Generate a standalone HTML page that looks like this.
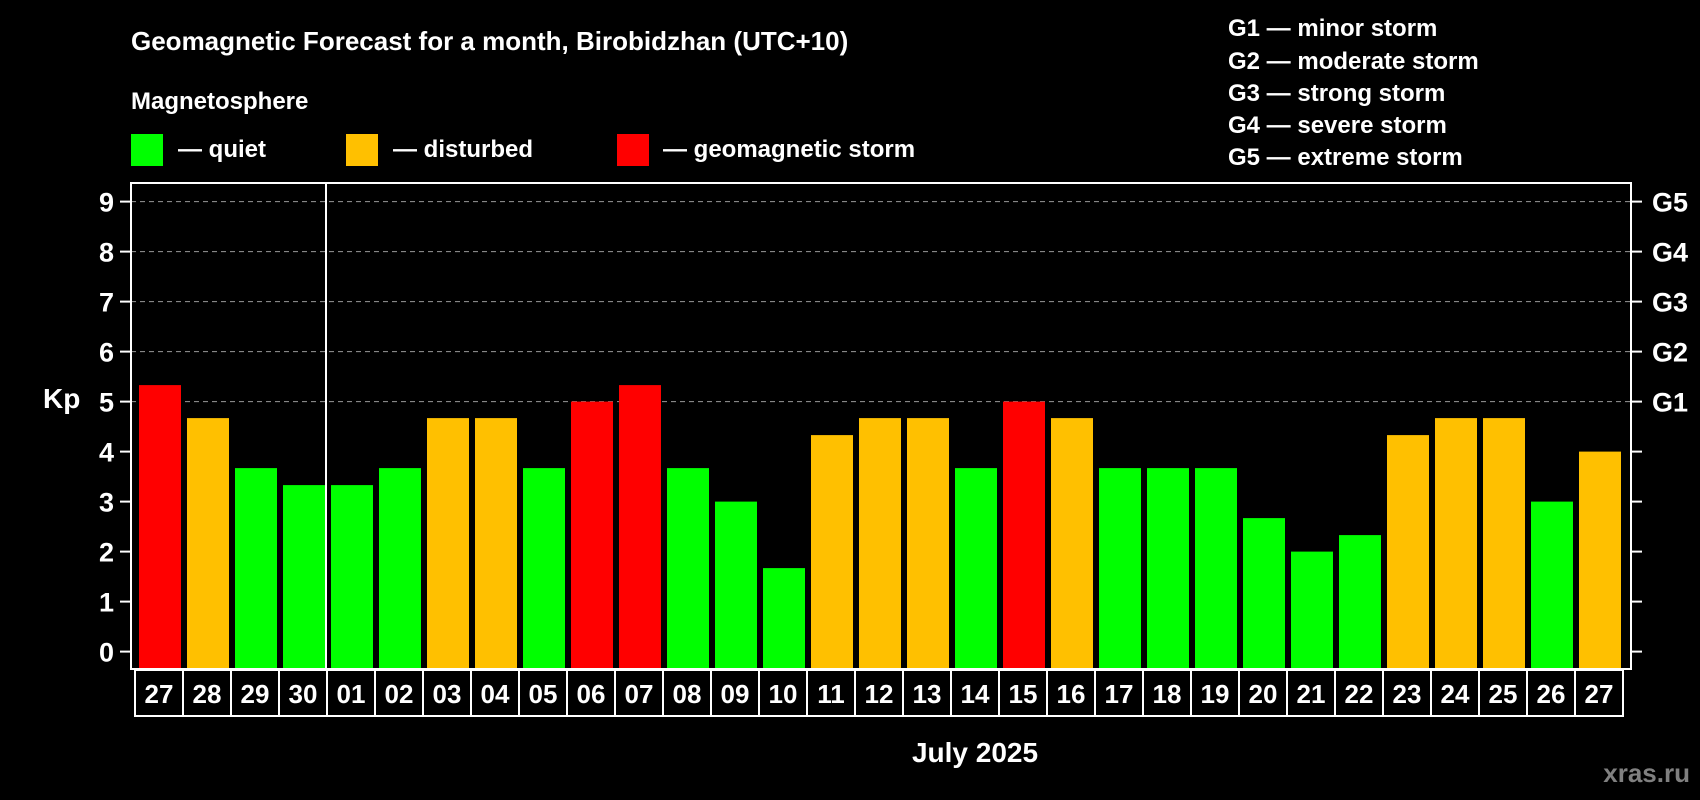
<!DOCTYPE html>
<html><head><meta charset="utf-8"><style>
html,body{margin:0;padding:0;background:#000;}
svg{display:block;font-family:"Liberation Sans",Arial,sans-serif;font-weight:bold;}
</style></head><body>
<svg id="c" width="1700" height="800" viewBox="0 0 1700 800">
<text x="131" y="50" fill="#fff" font-size="26">Geomagnetic Forecast for a month, Birobidzhan (UTC+10)</text>
<text x="131" y="109" fill="#fff" font-size="24">Magnetosphere</text>
<g><rect x="131" y="134" width="32" height="32" fill="#00ff00"/><text x="178" y="157" fill="#fff" font-size="24">— quiet</text></g>
<g><rect x="346" y="134" width="32" height="32" fill="#ffc000"/><text x="393" y="157" fill="#fff" font-size="24">— disturbed</text></g>
<g><rect x="617" y="134" width="32" height="32" fill="#ff0000"/><text x="663" y="157" fill="#fff" font-size="24">— geomagnetic storm</text></g>
<g fill="#fff" font-size="24">
<text x="1228" y="36">G1 — minor storm</text>
<text x="1228" y="69">G2 — moderate storm</text>
<text x="1228" y="101">G3 — strong storm</text>
<text x="1228" y="133">G4 — severe storm</text>
<text x="1228" y="165">G5 — extreme storm</text>
</g>
<text x="43" y="408" fill="#fff" font-size="28">Kp</text>
<text x="975" y="762" fill="#fff" font-size="28" text-anchor="middle">July 2025</text>
<text x="1690" y="782" fill="#808080" font-size="26" text-anchor="end">xras.ru</text>
<g id="grid"></g><g id="bars"></g><g id="axes"></g><g id="labels"></g>
</svg>
<script>
const days = ["27","28","29","30","01","02","03","04","05","06","07","08","09","10","11","12","13","14","15","16","17","18","19","20","21","22","23","24","25","26","27"];
const kpValues = [5.33,4.67,3.67,3.33,3.33,3.67,4.67,4.67,3.67,5,5.33,3.67,3,1.67,4.33,4.67,4.67,3.67,5,4.67,3.67,3.67,3.67,2.67,2,2.33,4.33,4.67,4.67,3,4];
const yTicks = [0,1,2,3,4,5,6,7,8,9];
const gLabels = ["G1","G2","G3","G4","G5"];
const gLevels = [5,6,7,8,9];
const NS="http://www.w3.org/2000/svg";
const L=131,R=1631,T=183,B=669,Y0=651.6,PU=50,X0=139,STEP=48,BW=42;
const y=v=>Y0-v*PU, x=i=>X0+i*STEP;
function mk(tag,at,parent){const e=document.createElementNS(NS,tag);for(const k in at)e.setAttribute(k,at[k]);parent.appendChild(e);return e;}
const grid=document.getElementById('grid'),bars=document.getElementById('bars'),axes=document.getElementById('axes'),labels=document.getElementById('labels');
gLevels.forEach(v=>{const l=mk('line',{x1:L,x2:R,y1:y(v),y2:y(v),stroke:'#999','stroke-dasharray':'5,4','stroke-width':1},grid);

});
kpValues.forEach((v,i)=>{const col=v>=5?'#ff0000':(v>=4?'#ffc000':'#00ff00');
const r=mk('rect',{x:x(i),y:y(v),width:BW,height:B-y(v),fill:col},bars);

});
const fr=mk('rect',{x:L,y:T,width:R-L,height:B-T,fill:'none',stroke:'#fff','stroke-width':2},axes);


const dv=mk('line',{x1:326,x2:326,y1:T,y2:B,stroke:'#fff','stroke-width':2},axes);


yTicks.forEach(v=>{mk('line',{x1:120,x2:L,y1:y(v),y2:y(v),stroke:'#fff','stroke-width':2},axes);
mk('line',{x1:R,x2:R+11,y1:y(v),y2:y(v),stroke:'#fff','stroke-width':2},axes);
const t=mk('text',{x:114,y:y(v)+10,fill:'#fff','font-size':27,'text-anchor':'end'},labels);t.textContent=v;

});
gLevels.forEach((v,i)=>{const t=mk('text',{x:1652,y:y(v)+10,fill:'#fff','font-size':27},labels);t.textContent=gLabels[i];

});
days.forEach((d,i)=>{const bx=x(i)-4;
const r=mk('rect',{x:bx,y:B+1,width:STEP,height:46,fill:'none',stroke:'#fff','stroke-width':2},labels);


const t=mk('text',{x:bx+STEP/2,y:B+34,fill:'#fff','font-size':26,'text-anchor':'middle'},labels);t.textContent=d;

});
</script>
</body></html>
